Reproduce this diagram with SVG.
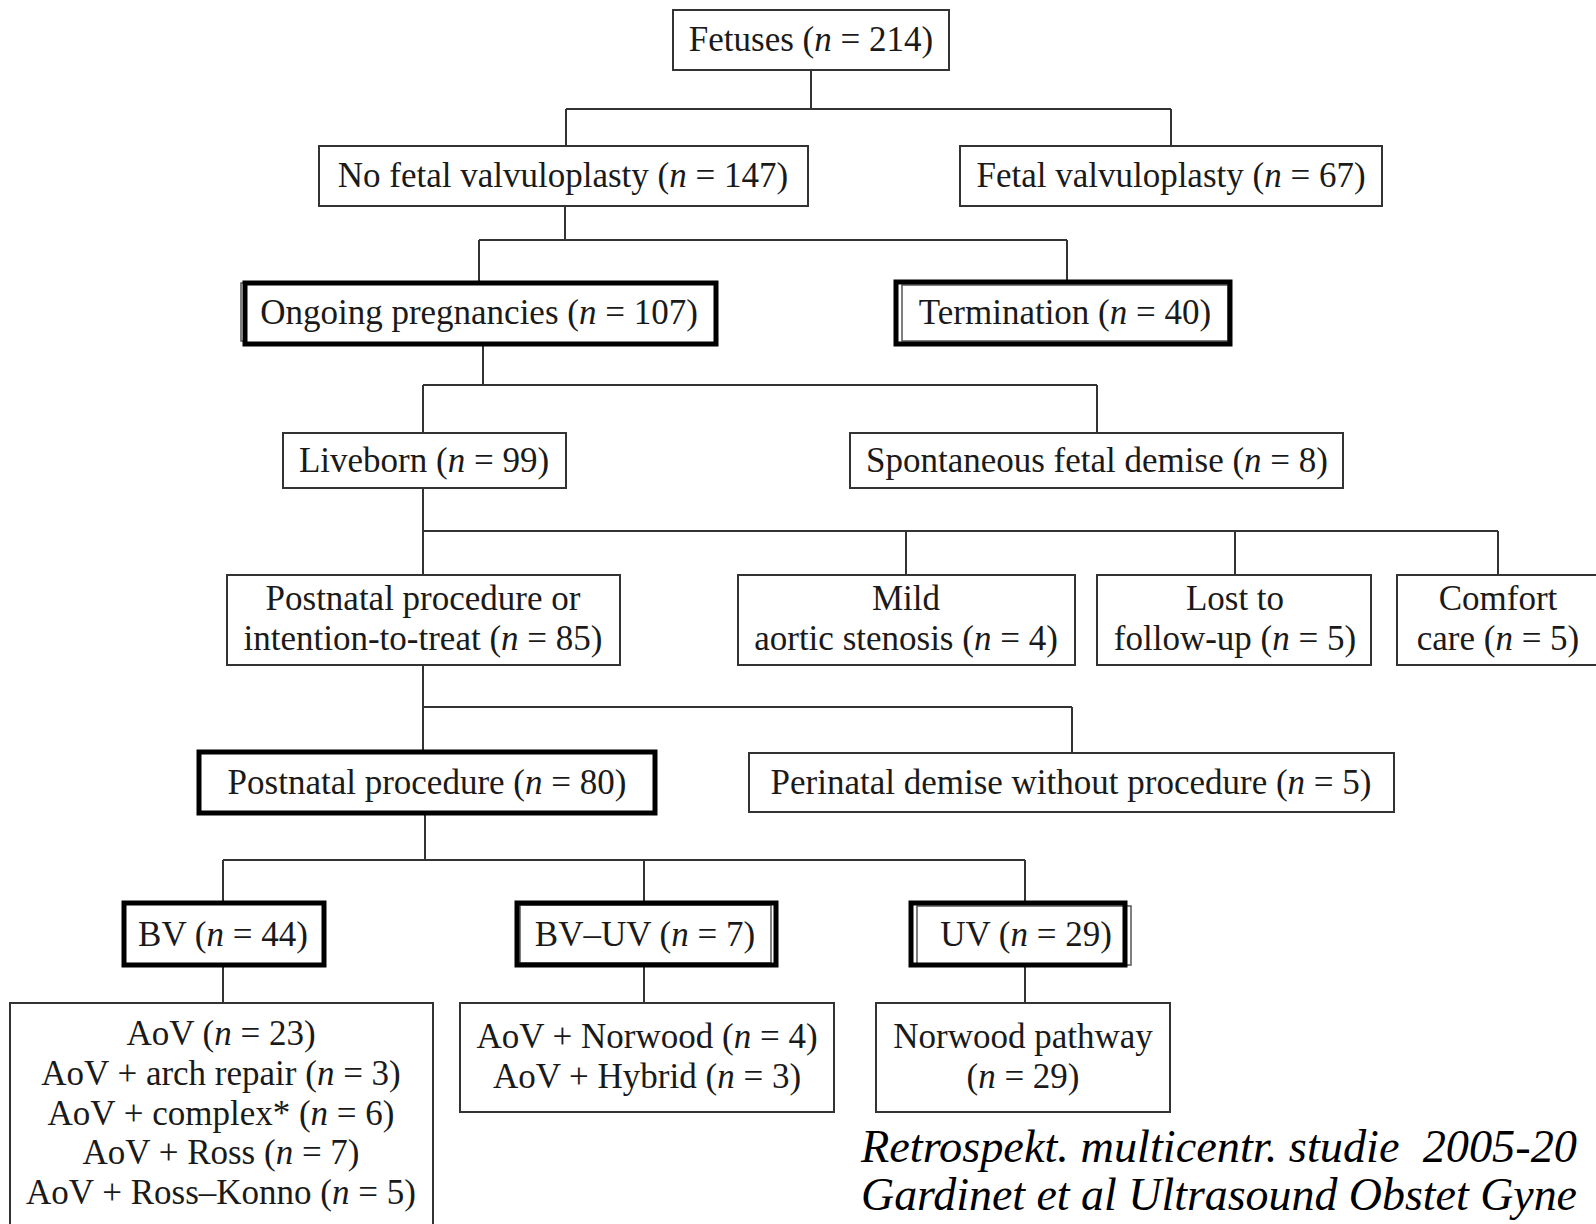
<svg xmlns="http://www.w3.org/2000/svg" width="1596" height="1224" viewBox="0 0 1596 1224">
<style>
.b{fill:#fff;stroke:#333;stroke-width:2}
.t{fill:none;stroke:#000;stroke-width:5}
.g{fill:none;stroke:#555;stroke-width:1.5}
.c{fill:none;stroke:#333;stroke-width:2}
text{font-family:"Liberation Serif","Times New Roman",serif;font-size:35px;fill:#1a1a1a;text-anchor:middle}
.i{font-style:italic}
.cap{font-family:"Liberation Serif","Times New Roman",serif;font-style:italic;font-size:46px;text-anchor:start;fill:#000}
</style>
<rect width="1596" height="1224" fill="#fff"/>
<g id="connectors">
<path class="c" d="M811,70V109M566,109H1171M566,109V146M1171,109V146"/>
<path class="c" d="M565,206V240M479,240H1067M479,240V282M1067,240V282"/>
<path class="c" d="M483,344V385M423,385H1097M423,385V433M1097,385V433"/>
<path class="c" d="M423,488V531M423,531H1498M423,531V575M906,531V575M1235,531V575M1498,531V575"/>
<path class="c" d="M423,665V707M423,707H1072M423,707V753M1072,707V753"/>
<path class="c" d="M425,812V860M223,860H1025M223,860V903M644,860V903M1025,860V903"/>
<path class="c" d="M223,965V1003M644,965V1003M1025,965V1003"/>
</g>
<g id="fetuses"><rect class="b" x="673" y="10" width="276" height="60"/><text x="811" y="51">Fetuses (<tspan class="i">n</tspan> = 214)</text></g>
<g id="no-fetal"><rect class="b" x="319" y="146" width="489" height="60"/><text x="563" y="187">No fetal valvuloplasty (<tspan class="i">n</tspan> = 147)</text></g>
<g id="fetal"><rect class="b" x="960" y="146" width="422" height="60"/><text x="1171" y="187">Fetal valvuloplasty (<tspan class="i">n</tspan> = 67)</text></g>
<g id="ongoing"><rect class="g" x="241" y="283" width="470" height="58"/><rect class="b" x="245" y="283" width="471" height="61" style="stroke:none"/><rect class="t" x="245" y="283" width="471" height="61"/><text x="479" y="324">Ongoing pregnancies (<tspan class="i">n</tspan> = 107)</text></g>
<g id="termination"><rect class="b" x="896" y="282" width="334" height="62"/><rect class="g" x="902" y="285" width="326" height="56"/><rect class="t" x="896" y="282" width="334" height="62"/><text x="1065" y="324">Termination (<tspan class="i">n</tspan> = 40)</text></g>
<g id="liveborn"><rect class="b" x="283" y="433" width="283" height="55"/><text x="424" y="472">Liveborn (<tspan class="i">n</tspan> = 99)</text></g>
<g id="spontaneous"><rect class="b" x="850" y="433" width="493" height="55"/><text x="1097" y="472">Spontaneous fetal demise (<tspan class="i">n</tspan> = 8)</text></g>
<g id="postnatal-itt"><rect class="b" x="227" y="575" width="393" height="90"/><text x="423" y="610">Postnatal procedure or</text><text x="423" y="650">intention-to-treat (<tspan class="i">n</tspan> = 85)</text></g>
<g id="mild"><rect class="b" x="738" y="575" width="337" height="90"/><text x="906" y="610">Mild</text><text x="906" y="650">aortic stenosis (<tspan class="i">n</tspan> = 4)</text></g>
<g id="lost"><rect class="b" x="1097" y="575" width="274" height="90"/><text x="1235" y="610">Lost to</text><text x="1235" y="650">follow-up (<tspan class="i">n</tspan> = 5)</text></g>
<g id="comfort"><rect class="b" x="1397" y="575" width="204" height="90"/><text x="1498" y="610">Comfort</text><text x="1498" y="650">care (<tspan class="i">n</tspan> = 5)</text></g>
<g id="postnatal"><rect class="b" x="199" y="752" width="456" height="61"/><rect class="t" x="199" y="752" width="456" height="61"/><text x="427" y="794">Postnatal procedure (<tspan class="i">n</tspan> = 80)</text></g>
<g id="perinatal"><rect class="b" x="749" y="753" width="645" height="59"/><text x="1071" y="794">Perinatal demise without procedure (<tspan class="i">n</tspan> = 5)</text></g>
<g id="bv"><rect class="b" x="124" y="903" width="200" height="62"/><rect class="t" x="124" y="903" width="200" height="62"/><text x="223" y="946">BV (<tspan class="i">n</tspan> = 44)</text></g>
<g id="bv-uv"><rect class="b" x="517" y="903" width="259" height="62"/><rect class="g" x="520" y="905" width="251" height="58"/><rect class="t" x="517" y="903" width="259" height="62"/><text x="645" y="946">BV–UV (<tspan class="i">n</tspan> = 7)</text></g>
<g id="uv"><rect class="b" x="911" y="903" width="214" height="62"/><rect class="g" x="917" y="906" width="214" height="59"/><rect class="t" x="911" y="903" width="214" height="62"/><text x="1026" y="946">UV (<tspan class="i">n</tspan> = 29)</text></g>
<g id="bv-detail"><rect class="b" x="10" y="1003" width="423" height="230"/>
<text x="221" y="1045">AoV (<tspan class="i">n</tspan> = 23)</text>
<text x="221" y="1085">AoV + arch repair (<tspan class="i">n</tspan> = 3)</text>
<text x="221" y="1125">AoV + complex* (<tspan class="i">n</tspan> = 6)</text>
<text x="221" y="1164">AoV + Ross (<tspan class="i">n</tspan> = 7)</text>
<text x="221" y="1204">AoV + Ross–Konno (<tspan class="i">n</tspan> = 5)</text></g>
<g id="bv-uv-detail"><rect class="b" x="460" y="1003" width="374" height="109"/>
<text x="647" y="1048">AoV + Norwood (<tspan class="i">n</tspan> = 4)</text>
<text x="647" y="1088">AoV + Hybrid (<tspan class="i">n</tspan> = 3)</text></g>
<g id="uv-detail"><rect class="b" x="876" y="1003" width="294" height="109"/>
<text x="1023" y="1048">Norwood pathway</text>
<text x="1023" y="1088">(<tspan class="i">n</tspan> = 29)</text></g>
<g id="caption">
<text class="cap" x="861" y="1162" textLength="716" lengthAdjust="spacingAndGlyphs" xml:space="preserve">Retrospekt. multicentr. studie  2005-20</text>
<text class="cap" x="861" y="1210" textLength="716" lengthAdjust="spacingAndGlyphs">Gardinet et al Ultrasound Obstet Gyne</text>
</g>
</svg>
